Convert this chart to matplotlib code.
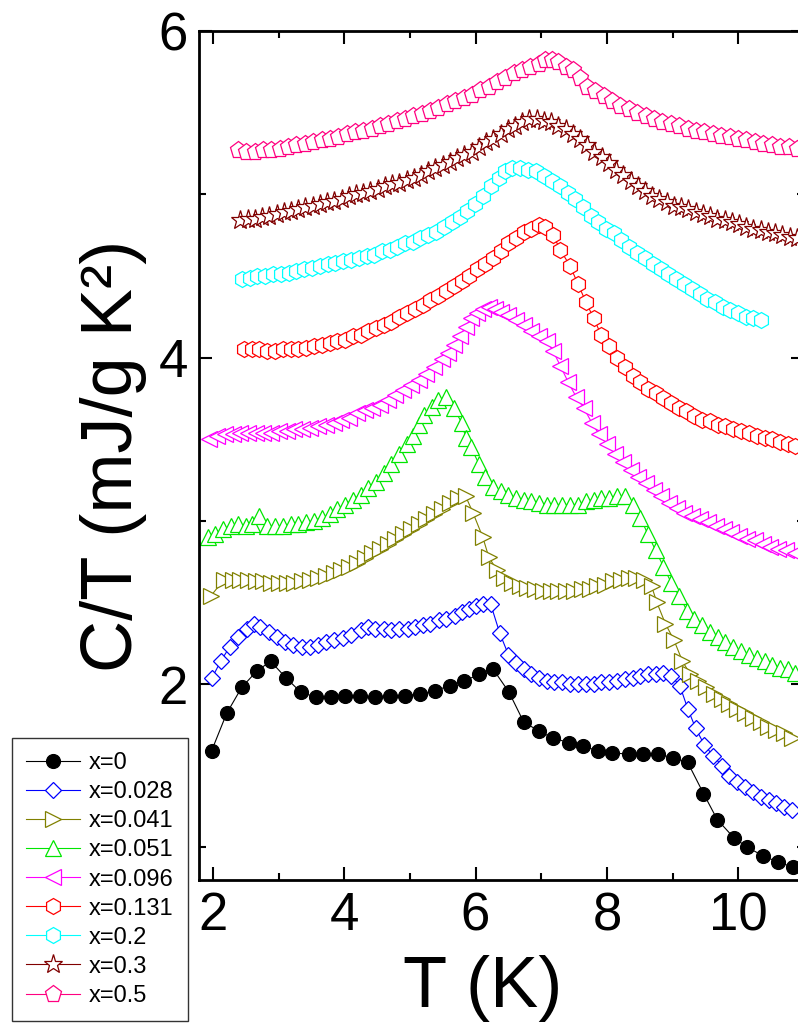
import matplotlib
matplotlib.use("Agg")
import matplotlib.pyplot as plt

plt.rcParams['font.family'] = ['Liberation Sans', 'DejaVu Sans']

labels = ["x=0", "x=0.028", "x=0.041", "x=0.051", "x=0.096",
          "x=0.131", "x=0.2", "x=0.3", "x=0.5"]

# x=0
T0 = [1.98, 2.21, 2.44, 2.67, 2.88, 3.11, 3.34, 3.57, 3.80, 4.01, 4.24, 4.47, 4.70, 4.93,
      5.16, 5.38, 5.61, 5.83, 6.06, 6.27, 6.51, 6.73, 6.97, 7.18, 7.43, 7.64, 7.87, 8.08,
      8.33, 8.55, 8.78, 9.01, 9.23, 9.47, 9.68, 9.93, 10.14, 10.37, 10.60, 10.83]
C0 = [1.59, 1.82, 1.98, 2.08, 2.14, 2.04, 1.95, 1.92, 1.92, 1.93, 1.93, 1.92, 1.93, 1.93,
      1.94, 1.96, 1.99, 2.02, 2.06, 2.09, 1.95, 1.77, 1.71, 1.67, 1.64, 1.62, 1.59, 1.58,
      1.57, 1.57, 1.57, 1.55, 1.52, 1.33, 1.17, 1.06, 1.00, 0.95, 0.91, 0.88]

# x=0.028
T1 = [1.99, 2.12, 2.26, 2.39, 2.52, 2.62, 2.72, 2.86, 2.98, 3.10, 3.22, 3.36, 3.48, 3.60,
      3.72, 3.85, 3.98, 4.11, 4.25, 4.37, 4.47, 4.60, 4.72, 4.84, 4.97, 5.08, 5.20, 5.31,
      5.44, 5.55, 5.68, 5.79, 5.90, 6.01, 6.11, 6.23, 6.37, 6.50, 6.61, 6.73, 6.85, 6.97,
      7.09, 7.20, 7.32, 7.44, 7.56, 7.68, 7.80, 7.91, 8.03, 8.15, 8.27, 8.39, 8.51, 8.62,
      8.74, 8.86, 8.98, 9.11, 9.23, 9.35, 9.48, 9.62, 9.75, 9.86, 9.98, 10.10, 10.22,
      10.34, 10.46, 10.57, 10.69, 10.82]
C1 = [2.04, 2.14, 2.23, 2.29, 2.34, 2.37, 2.35, 2.32, 2.29, 2.26, 2.24, 2.23, 2.23, 2.24,
      2.26, 2.27, 2.28, 2.30, 2.33, 2.35, 2.34, 2.34, 2.33, 2.34, 2.34, 2.35, 2.36, 2.37,
      2.39, 2.40, 2.42, 2.44, 2.46, 2.48, 2.49, 2.49, 2.31, 2.18, 2.13, 2.09, 2.06, 2.04,
      2.02, 2.01, 2.01, 2.00, 2.00, 2.00, 2.00, 2.01, 2.01, 2.02, 2.03, 2.04, 2.05, 2.06,
      2.06, 2.07, 2.05, 1.99, 1.85, 1.73, 1.63, 1.56, 1.50, 1.44, 1.40, 1.37, 1.34,
      1.31, 1.29, 1.27, 1.25, 1.23]

# x=0.041
T2 = [1.97, 2.17, 2.30, 2.42, 2.54, 2.65, 2.77, 2.89, 3.01, 3.13, 3.24, 3.36, 3.48, 3.60,
      3.72, 3.84, 3.95, 4.07, 4.19, 4.31, 4.43, 4.55, 4.66, 4.78, 4.90, 5.02, 5.14, 5.25,
      5.37, 5.49, 5.61, 5.73, 5.85, 5.96, 6.11, 6.20, 6.32, 6.44, 6.55, 6.67, 6.79, 6.91,
      7.03, 7.15, 7.26, 7.38, 7.50, 7.62, 7.74, 7.85, 7.97, 8.09, 8.21, 8.33, 8.45, 8.56,
      8.68, 8.76, 8.89, 9.02, 9.15, 9.27, 9.39, 9.51, 9.63, 9.75, 9.86, 9.98, 10.10,
      10.22, 10.34, 10.45, 10.57, 10.69, 10.81]
C2 = [2.54, 2.64, 2.64, 2.64, 2.64, 2.63, 2.63, 2.62, 2.62, 2.62, 2.62, 2.63, 2.64, 2.65,
      2.66, 2.68, 2.70, 2.72, 2.74, 2.77, 2.80, 2.83, 2.86, 2.89, 2.92, 2.95, 2.98, 3.01,
      3.04, 3.07, 3.11, 3.14, 3.15, 3.05, 2.90, 2.78, 2.70, 2.65, 2.62, 2.60, 2.59, 2.58,
      2.57, 2.57, 2.57, 2.57, 2.57, 2.58, 2.58, 2.60, 2.61, 2.63, 2.64, 2.65, 2.65, 2.64,
      2.60, 2.50, 2.37, 2.27, 2.14, 2.06, 2.02, 1.98, 1.94, 1.91, 1.88, 1.85, 1.82,
      1.79, 1.77, 1.74, 1.72, 1.70, 1.67]

# x=0.051
T3 = [1.92, 2.03, 2.15, 2.27, 2.39, 2.51, 2.60, 2.71, 2.83, 2.95, 3.07, 3.19, 3.30, 3.42,
      3.54, 3.66, 3.78, 3.89, 4.01, 4.13, 4.25, 4.37, 4.49, 4.60, 4.72, 4.84, 4.96, 5.05,
      5.14, 5.22, 5.34, 5.43, 5.55, 5.67, 5.79, 5.85, 5.93, 6.05, 6.14, 6.26, 6.38, 6.50,
      6.61, 6.73, 6.85, 6.97, 7.09, 7.20, 7.32, 7.44, 7.56, 7.68, 7.80, 7.91, 8.03, 8.15,
      8.27, 8.39, 8.51, 8.62, 8.74, 8.86, 8.98, 9.10, 9.22, 9.33, 9.45, 9.57, 9.69, 9.80,
      9.92, 10.04, 10.16, 10.28, 10.40, 10.51, 10.63, 10.75, 10.87]
C3 = [2.90, 2.92, 2.95, 2.97, 2.98, 2.97, 2.98, 3.03, 2.97, 2.97, 2.97, 2.98, 2.98, 2.99,
      3.00, 3.02, 3.04, 3.07, 3.10, 3.13, 3.16, 3.20, 3.24, 3.29, 3.35, 3.41, 3.47, 3.52,
      3.59, 3.65, 3.70, 3.74, 3.76, 3.69, 3.60, 3.51, 3.45, 3.35, 3.27, 3.21, 3.18, 3.16,
      3.14, 3.13, 3.12, 3.11, 3.10, 3.10, 3.10, 3.10, 3.10, 3.12, 3.13, 3.14, 3.14, 3.15,
      3.15, 3.10, 3.02, 2.92, 2.82, 2.72, 2.62, 2.54, 2.45, 2.40, 2.36, 2.32, 2.29, 2.26,
      2.23, 2.20, 2.18, 2.16, 2.14, 2.12, 2.10, 2.09, 2.07]

# x=0.096
T4 = [1.94, 2.06, 2.18, 2.30, 2.42, 2.54, 2.65, 2.77, 2.89, 3.01, 3.13, 3.24, 3.36, 3.48,
      3.60, 3.72, 3.84, 3.95, 4.07, 4.19, 4.31, 4.43, 4.55, 4.66, 4.78, 4.90, 5.02, 5.14,
      5.25, 5.37, 5.49, 5.58, 5.67, 5.76, 5.85, 5.93, 6.02, 6.11, 6.20, 6.29, 6.38, 6.50,
      6.61, 6.73, 6.85, 6.97, 7.09, 7.18, 7.29, 7.41, 7.53, 7.65, 7.77, 7.88, 8.00, 8.12,
      8.24, 8.36, 8.48, 8.59, 8.71, 8.83, 8.95, 9.07, 9.18, 9.30, 9.42, 9.54, 9.66, 9.78,
      9.89, 10.01, 10.13, 10.25, 10.37, 10.48, 10.60, 10.72, 10.87]
C4 = [3.50, 3.52, 3.53, 3.53, 3.54, 3.54, 3.54, 3.54, 3.54, 3.55, 3.55, 3.56, 3.56, 3.57,
      3.58, 3.59, 3.60, 3.62, 3.63, 3.66, 3.68, 3.69, 3.71, 3.74, 3.77, 3.80, 3.83, 3.86,
      3.90, 3.94, 3.99, 4.03, 4.08, 4.13, 4.19, 4.24, 4.27, 4.30, 4.31, 4.30, 4.28, 4.26,
      4.23, 4.20, 4.16, 4.13, 4.10, 4.04, 3.95, 3.85, 3.76, 3.69, 3.60, 3.53, 3.47, 3.41,
      3.36, 3.31, 3.27, 3.23, 3.19, 3.15, 3.11, 3.08, 3.05, 3.03, 3.01, 2.99, 2.97, 2.95,
      2.93, 2.91, 2.89, 2.88, 2.86, 2.84, 2.83, 2.82, 2.80]

# x=0.131
T5 = [2.48, 2.59, 2.71, 2.83, 2.95, 3.07, 3.19, 3.30, 3.42, 3.54, 3.66, 3.78, 3.89, 4.01,
      4.13, 4.25, 4.37, 4.49, 4.60, 4.72, 4.84, 4.96, 5.08, 5.20, 5.31, 5.43, 5.55, 5.67,
      5.79, 5.90, 6.02, 6.14, 6.26, 6.38, 6.50, 6.61, 6.73, 6.85, 6.97, 7.06, 7.18, 7.29,
      7.44, 7.56, 7.68, 7.80, 7.91, 8.03, 8.15, 8.27, 8.39, 8.51, 8.62, 8.74, 8.86, 8.98,
      9.10, 9.21, 9.33, 9.45, 9.57, 9.69, 9.80, 9.92, 10.04, 10.16, 10.28, 10.40, 10.51,
      10.63, 10.75, 10.87]
C5 = [4.05, 4.05, 4.05, 4.04, 4.04, 4.05, 4.05, 4.05, 4.06, 4.07, 4.08, 4.09, 4.10, 4.11,
      4.13, 4.14, 4.16, 4.18, 4.20, 4.22, 4.25, 4.27, 4.30, 4.32, 4.35, 4.38, 4.41, 4.44,
      4.47, 4.50, 4.54, 4.57, 4.61, 4.65, 4.70, 4.73, 4.77, 4.79, 4.81, 4.80, 4.75, 4.66,
      4.56, 4.45, 4.34, 4.24, 4.14, 4.07, 4.00, 3.94, 3.89, 3.85, 3.81, 3.78, 3.75, 3.72,
      3.69, 3.67, 3.64, 3.62, 3.61, 3.59, 3.58, 3.56, 3.55, 3.54, 3.52, 3.51, 3.50,
      3.48, 3.47, 3.46]

# x=0.2
T6 = [2.45, 2.56, 2.68, 2.80, 2.92, 3.04, 3.16, 3.27, 3.39, 3.51, 3.63, 3.75, 3.86, 3.98,
      4.10, 4.22, 4.34, 4.46, 4.57, 4.69, 4.81, 4.93, 5.05, 5.16, 5.28, 5.40, 5.52, 5.64,
      5.76, 5.87, 5.99, 6.11, 6.23, 6.35, 6.45, 6.56, 6.68, 6.80, 6.92, 7.04, 7.16, 7.28,
      7.40, 7.51, 7.63, 7.75, 7.87, 7.99, 8.11, 8.22, 8.34, 8.46, 8.58, 8.70, 8.82, 8.93,
      9.05, 9.17, 9.29, 9.41, 9.52, 9.64, 9.76, 9.88, 10.00, 10.11, 10.23, 10.35]
C6 = [4.48, 4.49, 4.50, 4.50, 4.51, 4.51, 4.52, 4.53, 4.54, 4.55, 4.56, 4.57, 4.58, 4.59,
      4.60, 4.61, 4.62, 4.63, 4.65, 4.66, 4.68, 4.70, 4.71, 4.73, 4.75, 4.77, 4.80, 4.83,
      4.86, 4.90, 4.94, 4.99, 5.05, 5.10, 5.14, 5.16, 5.16, 5.15, 5.14, 5.11, 5.08, 5.05,
      5.01, 4.97, 4.92, 4.87, 4.83, 4.79, 4.76, 4.72, 4.68, 4.64, 4.61, 4.57, 4.54, 4.51,
      4.48, 4.45, 4.42, 4.39, 4.36, 4.34, 4.31, 4.29, 4.27, 4.25, 4.24, 4.23]

# x=0.3
T7 = [2.42, 2.53, 2.64, 2.75, 2.86, 2.97, 3.08, 3.19, 3.30, 3.41, 3.52, 3.63, 3.74, 3.85,
      3.96, 4.07, 4.18, 4.29, 4.40, 4.51, 4.62, 4.73, 4.84, 4.95, 5.06, 5.17, 5.28, 5.39,
      5.50, 5.61, 5.72, 5.83, 5.94, 6.05, 6.16, 6.27, 6.38, 6.49, 6.60, 6.71, 6.82, 6.93,
      7.04, 7.15, 7.26, 7.37, 7.48, 7.59, 7.70, 7.81, 7.92, 8.03, 8.14, 8.25, 8.36, 8.47,
      8.58, 8.69, 8.80, 8.91, 9.02, 9.13, 9.24, 9.35, 9.46, 9.57, 9.68, 9.79, 9.90, 10.01,
      10.12, 10.23, 10.34, 10.45, 10.56, 10.67, 10.78, 10.89]
C7 = [4.84, 4.85, 4.85, 4.86, 4.87, 4.88, 4.89, 4.90, 4.91, 4.92, 4.93, 4.94, 4.95, 4.96,
      4.97, 4.99, 5.00, 5.01, 5.02, 5.03, 5.05, 5.06, 5.07, 5.09, 5.10, 5.12, 5.14, 5.16,
      5.18, 5.20, 5.22, 5.24, 5.26, 5.29, 5.32, 5.34, 5.37, 5.40, 5.42, 5.44, 5.46, 5.46,
      5.45, 5.44, 5.42, 5.40, 5.37, 5.34, 5.30, 5.26, 5.23, 5.19, 5.15, 5.12, 5.08, 5.05,
      5.02, 4.99, 4.97, 4.95, 4.93, 4.92, 4.91, 4.89, 4.88, 4.87, 4.85, 4.84, 4.83, 4.82,
      4.80, 4.79, 4.78, 4.77, 4.76, 4.75, 4.74, 4.73]

# x=0.5
T8 = [2.39, 2.51, 2.64, 2.77, 2.89, 3.02, 3.15, 3.27, 3.40, 3.53, 3.66, 3.78, 3.91, 4.04,
      4.16, 4.29, 4.42, 4.55, 4.67, 4.80, 4.93, 5.05, 5.18, 5.31, 5.43, 5.56, 5.69, 5.82,
      5.94, 6.07, 6.20, 6.32, 6.45, 6.58, 6.71, 6.83, 6.96, 7.06, 7.16, 7.26, 7.37, 7.49,
      7.59, 7.70, 7.82, 7.95, 8.08, 8.20, 8.33, 8.46, 8.59, 8.72, 8.84, 8.97, 9.10, 9.23,
      9.36, 9.48, 9.61, 9.74, 9.87, 10.00, 10.12, 10.25, 10.38, 10.51, 10.64, 10.77, 10.90]
C8 = [5.27, 5.26, 5.26, 5.27, 5.27, 5.28, 5.29, 5.30, 5.31, 5.32, 5.33, 5.34, 5.35, 5.37,
      5.38, 5.39, 5.40, 5.42, 5.43, 5.45, 5.46, 5.48, 5.49, 5.51, 5.53, 5.55, 5.57, 5.59,
      5.61, 5.64, 5.66, 5.69, 5.71, 5.74, 5.76, 5.78, 5.80, 5.82, 5.82, 5.81, 5.78, 5.76,
      5.71, 5.66, 5.63, 5.60, 5.57, 5.54, 5.52, 5.50, 5.48, 5.46, 5.44, 5.43, 5.42, 5.40,
      5.39, 5.38, 5.37, 5.36, 5.35, 5.34, 5.33, 5.32, 5.31, 5.30, 5.29, 5.29, 5.28]

series = [(T0, C0), (T1, C1), (T2, C2), (T3, C3), (T4, C4),
          (T5, C5), (T6, C6), (T7, C7), (T8, C8)]
colors = ['#000000', '#0000FF', '#808000', '#00E600', '#FF00FF',
          '#FF0000', '#00FFFF', '#800000', '#FF0080']
markers = ['o', 'D', '>', '^', '<', 'h', 'h', '*', 'p']
msizes = [10, 8.5, 12, 12, 12, 11.5, 11.5, 14, 12.5]

fig = plt.figure(figsize=(7.98, 10.27), dpi=100)
ax = fig.add_axes([0.2494, 0.1431, 0.7581, 0.8267])

handles = []
for i, (t, c) in enumerate(series):
    face = colors[i] if i == 0 else 'white'
    ln, = ax.plot(t, c, color=colors[i], lw=0.8, marker=markers[i], ms=msizes[i],
                  mfc=face, mec=colors[i], mew=0.9, label=labels[i])
    handles.append(ln)

ax.set_xlim(1.79, 11.0)
ax.set_ylim(0.8, 6.0)
ax.set_xticks([2, 4, 6, 8, 10])
ax.set_xticks([3, 5, 7, 9, 11], minor=True)
ax.set_yticks([2, 4, 6])
ax.set_yticks([1, 3, 5], minor=True)
ax.tick_params(which='both', direction='in', top=True, right=True, width=1.5,
               labelsize=38, pad=8)
ax.tick_params(which='major', length=9.5)
ax.tick_params(which='minor', length=5)
for sp in ax.spines.values():
    sp.set_linewidth(2)

ax.set_xlabel('T (K)', fontsize=52, labelpad=10)
ax.xaxis.label.set_x(0.469)
ax.set_ylabel('C/T (mJ/g K²)', fontsize=52, labelpad=8)

leg = fig.legend(handles=handles, loc='lower left', bbox_to_anchor=(12 / 798, 6 / 1027),
                 bbox_transform=fig.transFigure, borderaxespad=0, fontsize=17,
                 numpoints=1, handlelength=2.3, handletextpad=0.35, labelspacing=0.3,
                 borderpad=0.6, fancybox=False, framealpha=1, edgecolor='#333333')
leg.get_frame().set_linewidth(1)

fig.savefig('out.png', dpi=100)
